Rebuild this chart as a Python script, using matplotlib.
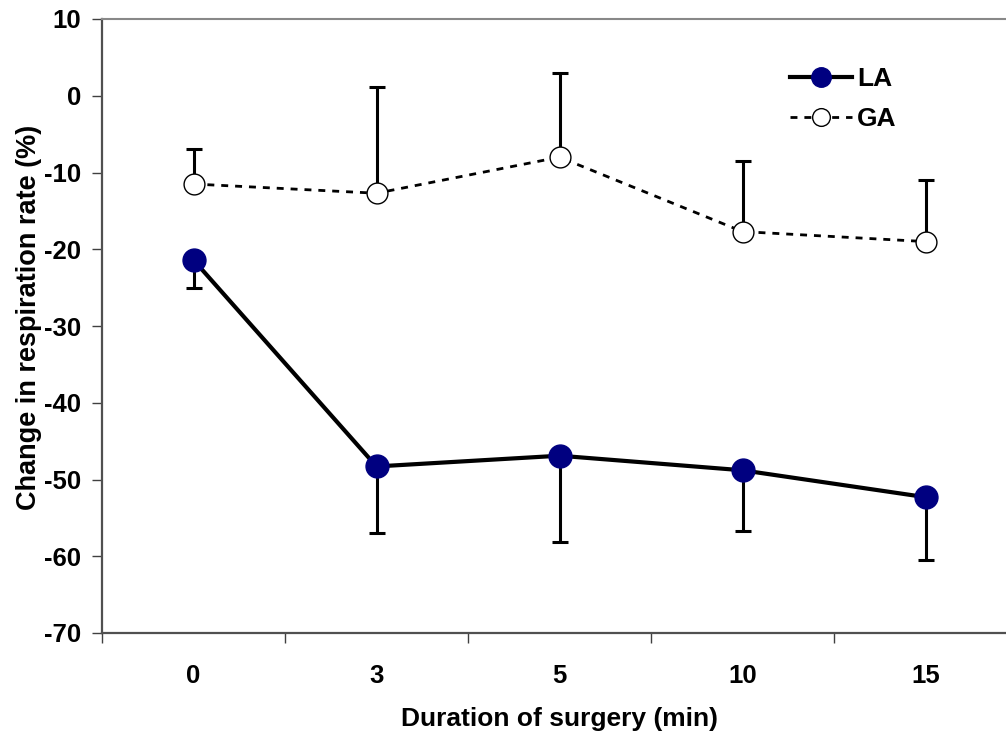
import numpy as np
import matplotlib
matplotlib.use("Agg")
import matplotlib.pyplot as plt

plt.rcParams['font.family'] = ['Liberation Sans', 'DejaVu Sans']
plt.rcParams['font.weight'] = 'bold'
plt.rcParams['axes.unicode_minus'] = False

categories = ['0', '3', '5', '10', '15']
la_mean = np.array([-21.4, -48.3, -46.9, -48.8, -52.3])
la_err = np.array([3.7, 8.7, 11.2, 7.9, 8.2])      # drawn downward only
ga_mean = np.array([-11.5, -12.7, -8.0, -17.7, -19.0])
ga_err = np.array([4.5, 13.9, 11.0, 9.2, 8.0])      # drawn upward only

W, H = 1006, 734
fig = plt.figure(figsize=(W / 100, H / 100), dpi=100)
# plot area runs past the right edge of the picture, as in the original crop
ax = fig.add_axes([102 / W, 1 - 633 / H, (1017 - 102) / W, (633 - 19) / H])

x = np.arange(len(categories))
zeros = np.zeros(len(categories))

ax.errorbar(x, la_mean, yerr=[la_err, zeros], fmt='none', ecolor='black',
            elinewidth=2.2, capsize=6, capthick=2.2, zorder=2)
ax.errorbar(x, ga_mean, yerr=[zeros, ga_err], fmt='none', ecolor='black',
            elinewidth=2.2, capsize=6, capthick=2.2, zorder=2)

ax.plot(x, la_mean, '-', color='black', lw=3, marker='o', ms=16.5,
        mfc='#000080', mec='#000080', label='LA', zorder=4)
ax.plot(x, ga_mean, color='black', lw=2, ls=(0, (2.5, 2.5)), marker='o', ms=15,
        mfc='white', mec='black', mew=1.0, label='GA', zorder=3)

ax.set_xlim(-0.5, 4.5)
ax.set_ylim(-70, 10)
ax.set_yticks(np.arange(-70, 11, 10))

# ticks between categories, labels centred on categories
ax.set_xticks(np.arange(-0.5, 4.6, 1.0))
ax.set_xticklabels([])
ax.set_xticks(x, minor=True)
ax.set_xticklabels(categories, minor=True)
ax.tick_params(axis='x', which='major', length=7, width=1, direction='out', color='#404040')
ax.tick_params(axis='x', which='minor', length=0, pad=22, labelsize=18.5)
ax.tick_params(axis='y', length=7, width=1, direction='out', color='#404040',
               pad=8, labelsize=18.5)

for name in ['left', 'bottom']:
    ax.spines[name].set_color('#505050')
    ax.spines[name].set_linewidth(1.6)
for name in ['top', 'right']:
    ax.spines[name].set_color('#888888')
    ax.spines[name].set_linewidth(1.5)

ax.set_xlabel('Duration of surgery (min)', fontsize=19, fontweight='bold', labelpad=14)
ax.set_ylabel('Change in respiration rate (%)', fontsize=19.5, fontweight='bold')
ax.yaxis.set_label_coords(-0.066, 0.514)

ax.legend(loc='upper left', bbox_to_anchor=(790 / W, 1 - 67 / H),
          bbox_transform=fig.transFigure, frameon=False, fontsize=19,
          handlelength=2.35, handletextpad=0.2, labelspacing=0.6,
          borderaxespad=0, borderpad=0, markerscale=0.85)

fig.savefig('out.png', dpi=100)
